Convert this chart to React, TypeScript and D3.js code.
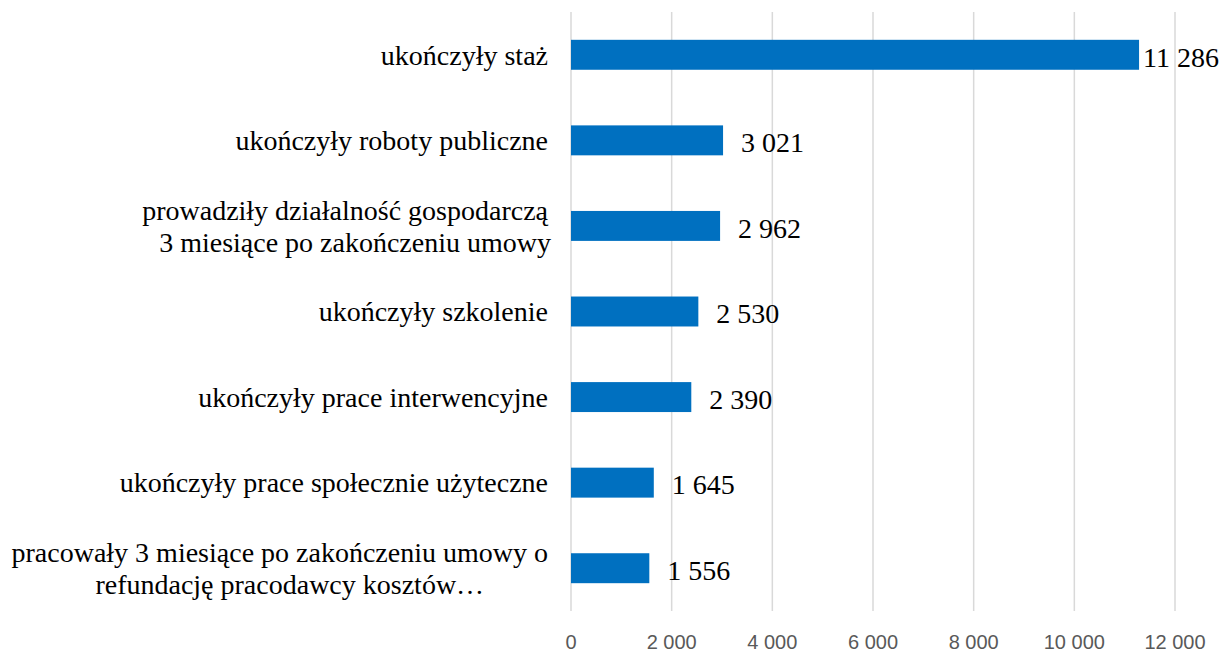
import { useEffect, useRef } from "react";
import * as d3 from "d3";

// category labels, already split into the lines they wrap to
const categories = [
  ["ukończyły staż"],
  ["ukończyły roboty publiczne"],
  ["prowadziły działalność gospodarczą", "3 miesiące po zakończeniu umowy"],
  ["ukończyły szkolenie"],
  ["ukończyły prace interwencyjne"],
  ["ukończyły prace społecznie użyteczne"],
  ["pracowały 3 miesiące po zakończeniu umowy o", "refundację pracodawcy kosztów…"],
];
const values = [11286, 3021, 2962, 2530, 2390, 1645, 1556];
const ticks = [0, 2000, 4000, 6000, 8000, 10000, 12000];

const App = () => {
  const width = 1224;
  const height = 653;
  const plotLeft = 571;
  const plotRight = 1175;
  const plotTop = 12;
  const plotBottom = 611;

  const svgRef = useRef(null);

  useEffect(() => {
    const svg = d3.select(svgRef.current);
    svg.selectAll("*").remove();

    const pl = d3.formatLocale({
      decimal: ",",
      thousands: "\u00a0",
      grouping: [3],
      currency: ["", ""],
    });
    const fmt = pl.format(",d");

    const x = d3.scaleLinear().domain([0, 12000]).range([plotLeft, plotRight]);
    const y = d3
      .scaleBand()
      .domain(categories.map((d, i) => String(i)))
      .range([plotTop, plotBottom])
      .paddingInner(0.65)
      .paddingOuter(0.325);

    // grid lines
    svg
      .append("g")
      .selectAll("line")
      .data(ticks)
      .enter()
      .append("line")
      .attr("x1", (d) => x(d))
      .attr("x2", (d) => x(d))
      .attr("y1", plotTop)
      .attr("y2", plotBottom)
      .attr("stroke", "#d9d9d9")
      .attr("stroke-width", 1.5);

    // tick labels
    svg
      .append("g")
      .selectAll("text")
      .data(ticks)
      .enter()
      .append("text")
      .attr("x", (d) => x(d))
      .attr("y", 649)
      .attr("text-anchor", "middle")
      .attr("font-family", "'Liberation Sans', Arial, sans-serif")
      .attr("font-size", 20)
      .attr("fill", "#595959")
      .text((d) => fmt(d));

    // bars
    svg
      .append("g")
      .selectAll("rect")
      .data(values)
      .enter()
      .append("rect")
      .attr("x", x(0))
      .attr("y", (d, i) => y(String(i)))
      .attr("width", (d) => x(d) - x(0))
      .attr("height", y.bandwidth())
      .attr("fill", "#0070c0");

    // value labels, pushed back inside when they would run off the right edge
    const vals = svg.append("g");
    values.forEach((v, i) => {
      const t = vals
        .append("text")
        .attr("y", y(String(i)) + y.bandwidth() / 2)
        .attr("dy", "0.42em")
        .attr("font-family", "'Liberation Serif', 'Times New Roman', serif")
        .attr("font-size", 28)
        .attr("fill", "#000")
        .text(fmt(v));
      const w = t.node().getComputedTextLength();
      t.attr("x", Math.min(x(v) + 18, width - 5 - w));
    });

    // category labels (multi-line ones are centred on each other)
    const labelRight = 548;
    const lineH = 32;
    const cats = svg.append("g");
    categories.forEach((lines, i) => {
      const cy = y(String(i)) + y.bandwidth() / 2;
      const g = cats
        .append("text")
        .attr("font-family", "'Liberation Serif', 'Times New Roman', serif")
        .attr("font-size", 28)
        .attr("fill", "#000");
      const spans = lines.map((l, j) =>
        g
          .append("tspan")
          .attr("y", cy + (j - (lines.length - 1) / 2) * lineH)
          .attr("dy", "0.35em")
          .text(l)
      );
      const widths = spans.map((s) => s.node().getComputedTextLength());
      const maxW = d3.max(widths);
      const cx = labelRight - maxW / 2;
      spans.forEach((s, j) =>
        s
          .attr("text-anchor", "middle")
          .attr("x", widths[j] === maxW ? cx : cx + 10)
      );
    });
  }, []);

  return (
    <svg
      ref={svgRef}
      width={width}
      height={height}
      viewBox={`0 0 ${width} ${height}`}
      style={{ position: "absolute", left: 0, top: 0, background: "#fff" }}
    />
  );
};

export default App;
